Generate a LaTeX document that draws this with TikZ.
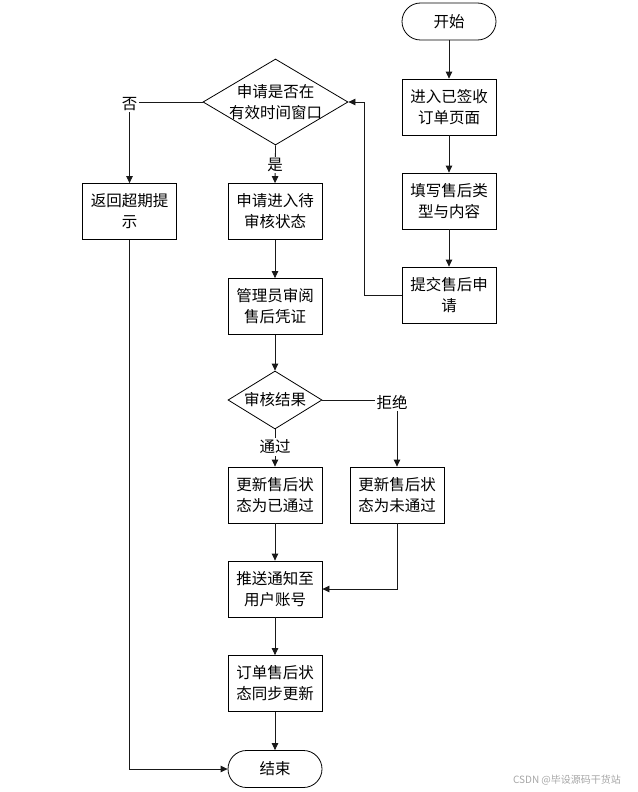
\documentclass[tikz,border=0pt]{standalone}
\usepackage{fontspec}
\setmainfont{Noto Sans CJK SC}
\usetikzlibrary{shapes.geometric,arrows.meta}
\begin{document}
\begin{tikzpicture}[x=1pt,y=-1pt,
  every node/.style={font=\fontsize{15.5pt}{21pt}\selectfont, text=black},
  proc/.style={draw=black, line width=0.8pt, minimum width=94pt, minimum height=56pt, align=center, inner sep=0pt, fill=white},
  term/.style={draw=black, line width=0.8pt, minimum width=94pt, minimum height=37pt, rounded corners=18.5pt, inner sep=0pt, fill=white},
  deci/.style={draw=black, line width=0.8pt, shape=diamond, inner sep=0pt},
  lbl/.style={fill=white, inner sep=1.5pt},
  conn/.style={draw=black!90, line width=0.8pt},
  arr/.style={conn, -{Triangle[length=7pt,width=6.5pt]}}]
\useasboundingbox (0,0) rectangle (637,792);
% nodes
\node[term] (start) at (449,21.5) {开始};
\node[proc] (enter) at (449,107) {进入已签收\\订单页面};
\node[proc] (fill) at (449,201) {填写售后类\\型与内容};
\node[proc] (submit) at (449,295) {提交售后申\\请};
\node[deci, minimum width=145pt, minimum height=86pt] (d1) at (275.5,102) {};
\node[align=center] (d1t) at (d1) {申请是否在\\有效时间窗口};
\node[proc] (back) at (129.5,211.5) {返回超期提\\示};
\node[proc] (pending) at (275,211.5) {申请进入待\\审核状态};
\node[proc] (review) at (275,306.5) {管理员审阅\\售后凭证};
\node[deci, minimum width=94pt, minimum height=58pt] (d2) at (275,400) {};
\node (d2t) at (d2) {审核结果};
\node[proc] (pass) at (275,495) {更新售后状\\态为已通过};
\node[proc] (fail) at (397,495) {更新售后状\\态为未通过};
\node[proc] (notify) at (275,589) {推送通知至\\用户账号};
\node[proc] (sync) at (275,683.5) {订单售后状\\态同步更新};
\node[term] (end) at (275,769) {结束};
% corner coordinates
\coordinate (c1) at (364,295);
\coordinate (c2) at (364,102);
\coordinate (cno) at (129.5,102);
\coordinate (crej) at (397,400);
\coordinate (c3) at (129.5,769);
\coordinate (c4) at (397,589);
% connectors
\draw[arr] (start) -- (enter);
\draw[arr] (enter) -- (fill);
\draw[arr] (fill) -- (submit);
\draw[arr] (submit.west) -- (c1) -- (c2) -- (d1.east);
\draw[arr] (d1.west) -- (cno) -- (back.north);
\draw[arr] (d1.south) -- (pending.north);
\draw[arr] (pending) -- (review);
\draw[arr] (review) -- (d2.north);
\draw[arr] (d2.east) -- (crej) -- (fail.north);
\draw[arr] (d2.south) -- (pass.north);
\draw[arr] (pass) -- (notify);
\draw[arr] (fail.south) -- (c4) -- (notify.east);
\draw[arr] (notify) -- (sync);
\draw[arr] (sync) -- (end);
\draw[arr] (back.south) -- (c3) -- (end.west);
% labels
\node[lbl] (lno) at (129.5,104) {否};
\node[lbl] (lyes) at (275,165) {是};
\node[lbl] (lpass) at (275,447) {通过};
\node[lbl] (lrej) at (392,402) {拒绝};
% watermark
\node[font=\fontsize{10pt}{12pt}\selectfont, text=black!35] (wm) at (567,780) {CSDN @毕设源码干货站};
\end{tikzpicture}
\end{document}
